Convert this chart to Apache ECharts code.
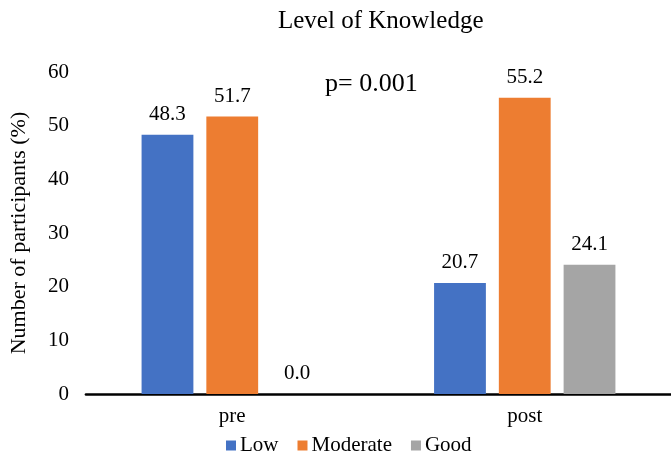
<!DOCTYPE html>
<html><head><meta charset="utf-8">
<script src="https://cdn.jsdelivr.net/npm/echarts@6/dist/echarts.min.js"></script>
<style>html,body{margin:0;padding:0;background:#fff}#c{width:671px;height:456px}</style>
</head><body><div id="c"></div>
<script>
const categories = ['pre', 'post'];
const seriesNames = ['Low', 'Moderate', 'Good'];
const lowValues = [48.3, 20.7];
const moderateValues = [51.7, 55.2];
const goodValues = [0.0, 24.1];
const yTicks = [0, 10, 20, 30, 40, 50, 60];
const colors = ['#4472C4', '#ED7D31', '#A5A5A5'];
const font = '"Liberation Serif", "Times New Roman", serif';

const chart = echarts.init(document.getElementById('c'), null, {renderer: 'canvas'});
const mk = (name, data, i) => ({
  name, type: 'bar', data,
  itemStyle: {color: colors[i]},
  barGap: '25%', barCategoryGap: '38%',
  label: {show: true, position: 'top', distance: 10, formatter: p => p.value.toFixed(1),
    fontFamily: font, fontSize: 21, color: '#000'}
});
chart.setOption({
  animation: false,
  title: {text: 'Level of Knowledge', left: 273, top: 4,
    textStyle: {fontFamily: font, fontSize: 25, fontWeight: 'normal', color: '#000'}},
  graphic: [{type: 'text', left: 325, top: 71, style: {text: 'p= 0.001', font: '26px ' + font, fill: '#000'}}],
  legend: {data: seriesNames, top: 435, left: 226, padding: 0, itemWidth: 10, itemHeight: 10, itemGap: 19,
    icon: 'rect', textStyle: {fontFamily: font, fontSize: 21, color: '#000', padding: [0,0,0,-1]}},
  grid: {left: 82, right: 0, top: 72, bottom: 62, containLabel: false},
  xAxis: {type: 'category', data: categories,
    axisLine: {lineStyle: {color: '#000', width: 2.7}}, axisTick: {show: false},
    axisLabel: {fontFamily: font, fontSize: 21, color: '#000', margin: 12}},
  yAxis: {type: 'value', min: yTicks[0], max: yTicks[yTicks.length-1], interval: 10,
    name: 'Number of participants (%)', nameLocation: 'middle', nameGap: 56, nameRotate: 90,
    nameTextStyle: {fontFamily: font, fontSize: 22, color: '#000'},
    axisLine: {show: false}, axisTick: {show: false}, splitLine: {show: false},
    axisLabel: {fontFamily: font, fontSize: 21, color: '#000', margin: 17}},
  series: [mk(seriesNames[0], lowValues, 0), mk(seriesNames[1], moderateValues, 1), mk(seriesNames[2], goodValues, 2)]
});
</script></body></html>
